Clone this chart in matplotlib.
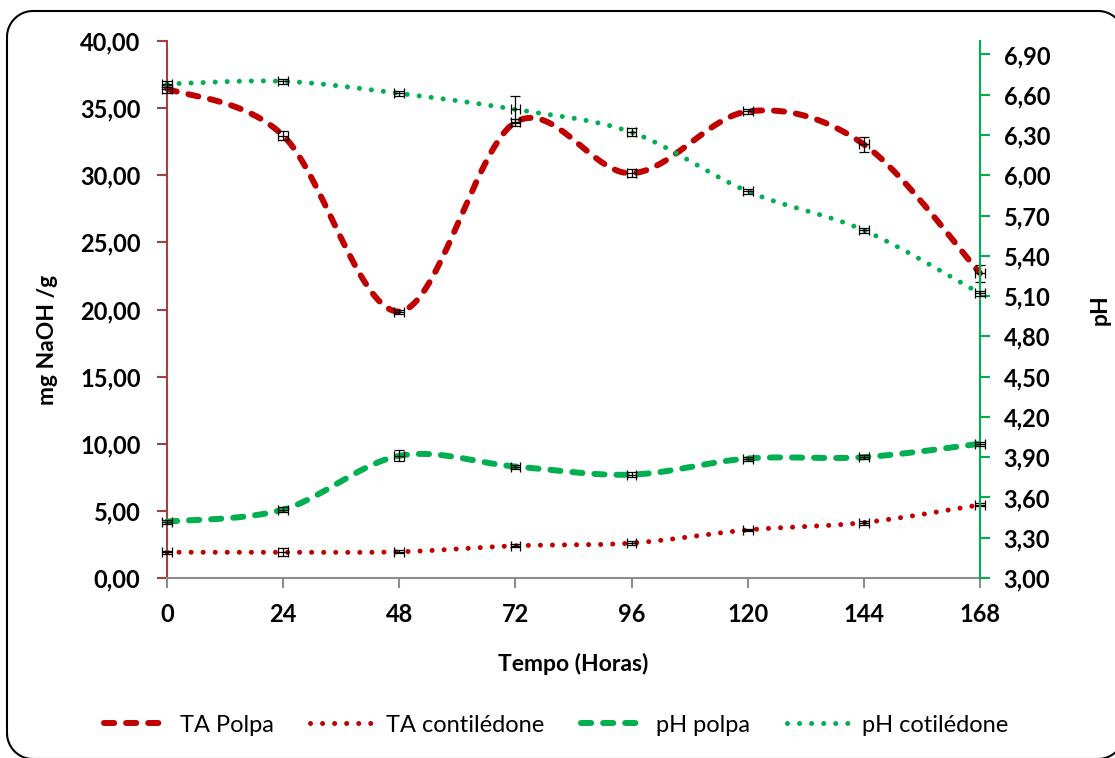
import numpy as np
import matplotlib
matplotlib.use("Agg")
import matplotlib.pyplot as plt
from matplotlib.lines import Line2D
from matplotlib.ticker import FuncFormatter, MultipleLocator
from matplotlib.transforms import IdentityTransform

plt.rcParams["font.family"] = ["Lato", "DejaVu Sans"]

# tempo de fermentação (h)
horas = [0, 24, 48, 72, 96, 120, 144, 168]
horas_err = 1.0

# acidez titulável (mg NaOH / g)
ta_polpa = [36.45, 32.95, 19.85, 33.95, 30.15, 34.75, 32.30, 22.70]
ta_polpa_err = [0.30, 0.35, 0.15, 0.25, 0.30, 0.20, 0.55, 0.65]
ta_cotiledone = [1.92, 1.92, 1.95, 2.40, 2.60, 3.58, 4.13, 5.45]
ta_cotiledone_err = [0.10, 0.30, 0.10, 0.10, 0.15, 0.10, 0.15, 0.10]

# pH
ph_polpa = [3.42, 3.51, 3.91, 3.83, 3.77, 3.89, 3.90, 4.00]
ph_polpa_err = [0.015, 0.02, 0.04, 0.015, 0.02, 0.015, 0.015, 0.015]
ph_cotiledone = [6.68, 6.70, 6.61, 6.49, 6.32, 5.88, 5.59, 5.12]
ph_cotiledone_err = [0.02, 0.02, 0.02, 0.10, 0.03, 0.02, 0.02, 0.02]

RED = "#C00000"
GREEN = "#00B050"
AXRED = "#A5403E"
GREY = "#8C8C8C"
FS = 17
LFS = 16.5


def smooth(x, y, n=40):
    """bezier smoothing through every point (spreadsheet style)"""
    px = np.concatenate([[x[0]], x, [x[-1]]]).astype(float)
    py = np.concatenate([[y[0]], y, [y[-1]]]).astype(float)
    t = np.linspace(0, 1, n)
    xs, ys = [], []
    for i in range(1, len(px) - 2):
        for p, out in ((px, xs), (py, ys)):
            p0, p3 = p[i], p[i + 1]
            c1 = p[i] + (p[i + 1] - p[i - 1]) / 6
            c2 = p[i + 1] - (p[i + 2] - p[i]) / 6
            out.extend((1 - t) ** 3 * p0 + 3 * (1 - t) ** 2 * t * c1
                       + 3 * (1 - t) * t ** 2 * c2 + t ** 3 * p3)
    return np.array(xs), np.array(ys)


def rounded_outline(x0, y0, x1, y1, r, n=20):
    """polyline of a rounded rectangle, in pixels"""
    pts = []
    corners = [(x1 - r, y1 - r, 0), (x0 + r, y1 - r, 90),
               (x0 + r, y0 + r, 180), (x1 - r, y0 + r, 270)]
    for cx, cy, a0 in corners:
        a = np.radians(np.linspace(a0, a0 + 90, n))
        pts.extend(zip(cx + r * np.cos(a), cy + r * np.sin(a)))
    pts.append(pts[0])
    return np.array(pts)


def comma(v, pos):
    return f"{v:.2f}".replace(".", ",")


fig = plt.figure(figsize=(11.15, 7.58), dpi=100)
ax = fig.add_axes([167 / 1115, 1 - 578 / 758, 813 / 1115, 537 / 758])
ax2 = ax.twinx()

dashed = dict(lw=4.3, linestyle=(0, (1.7, 2.0)), dash_capstyle="round")
dotted = dict(lw=3.6, linestyle=(0, (0.01, 2.4)), dash_capstyle="round")
ebar = dict(fmt="none", ecolor="black", elinewidth=0.9, capsize=3.5,
            capthick=0.9, zorder=5, clip_on=False)

x, y = smooth(horas, ta_polpa)
l1, = ax.plot(x, y, color=RED, label="TA Polpa", clip_on=False, **dashed)
x, y = smooth(horas, ta_cotiledone)
l2, = ax.plot(x, y, color=RED, label="TA contilédone", clip_on=False, **dotted)
ax.errorbar(horas, ta_polpa, yerr=ta_polpa_err, xerr=horas_err, **ebar)
ax.errorbar(horas, ta_cotiledone, yerr=ta_cotiledone_err, xerr=horas_err, **ebar)

x, y = smooth(horas, ph_polpa)
l3, = ax2.plot(x, y, color=GREEN, label="pH polpa", clip_on=False, **dashed)
x, y = smooth(horas, ph_cotiledone)
l4, = ax2.plot(x, y, color=GREEN, label="pH cotilédone", clip_on=False, **dotted)
ax2.errorbar(horas, ph_polpa, yerr=ph_polpa_err, xerr=horas_err, **ebar)
ax2.errorbar(horas, ph_cotiledone, yerr=ph_cotiledone_err, xerr=horas_err, **ebar)

# axes
ax.set_xlim(0, 168)
ax.set_ylim(0, 40)
ax2.set_ylim(3.0, 7.0)
ax.xaxis.set_major_locator(MultipleLocator(24))
ax.yaxis.set_major_locator(MultipleLocator(5))
ax2.set_yticks(np.arange(3.0, 6.95, 0.3))
ax.yaxis.set_major_formatter(FuncFormatter(comma))
ax2.yaxis.set_major_formatter(FuncFormatter(comma))

for a in (ax, ax2):
    a.spines["top"].set_visible(False)
    a.patch.set_visible(False)
ax.spines["right"].set_visible(False)
ax2.spines["left"].set_visible(False)
ax2.spines["bottom"].set_visible(False)
ax.spines["left"].set_color(AXRED)
ax.spines["left"].set_linewidth(1.5)
ax.spines["bottom"].set_color(GREY)
ax.spines["bottom"].set_linewidth(1.5)
ax2.spines["right"].set_color(GREEN)
ax2.spines["right"].set_linewidth(1.5)

ax.tick_params(axis="y", length=7, width=1.5, color=AXRED, pad=12, labelsize=FS)
ax.tick_params(axis="x", length=7, width=1.5, color=GREY, pad=11, labelsize=FS)
ax2.tick_params(axis="y", length=7, width=1.5, color=GREEN, pad=10, labelsize=FS)
for lab in ax.get_xticklabels() + ax.get_yticklabels() + ax2.get_yticklabels():
    lab.set_fontweight("bold")

ax.set_xlabel("Tempo (Horas)", fontsize=LFS, fontweight="bold")
ax.xaxis.set_label_coords(0.5, -0.14)
ax.set_ylabel("mg NaOH /g", fontsize=LFS, fontweight="bold")
ax.yaxis.set_label_coords(-0.134, 0.443)
ax2.set_ylabel("pH", fontsize=LFS, fontweight="bold", rotation=90)
ax2.yaxis.set_label_coords(1.135, 0.5)

fig.legend([l1, l2, l3, l4], [l.get_label() for l in (l1, l2, l3, l4)],
           loc="center", bbox_to_anchor=(0.499, 1 - 725 / 758), ncol=4,
           frameon=False, fontsize=FS, handlelength=2.6, handletextpad=0.6,
           columnspacing=1.55)

# rounded chart border, right and bottom edges run off the canvas
outline = rounded_outline(7, -1, 1124, 747, 26)
fig.lines.append(Line2D(outline[:, 0], outline[:, 1], transform=IdentityTransform(),
                        color="black", linewidth=1.5, solid_joinstyle="round"))

fig.savefig("out.png", dpi=100)
